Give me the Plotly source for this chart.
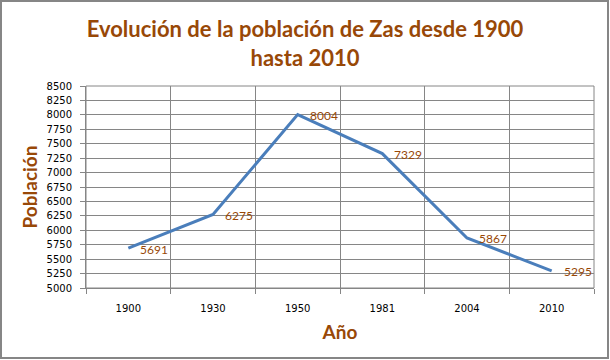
import plotly.graph_objects as go

years = ["1900", "1930", "1950", "1981", "2004", "2010"]
population = [5691, 6275, 8004, 7329, 5867, 5295]
y_ticks = list(range(5000, 8501, 250))

title_color = "#984807"
grid_color = "#868686"
label_font = "Lato, Open Sans, sans-serif"
tick_font = "DejaVu Sans, Verdana, sans-serif"

fig = go.Figure()
fig.add_trace(go.Scatter(
    x=years, y=population, mode="lines",
    line=dict(color="#4A7EBB", width=3),
    showlegend=False, hoverinfo="x+y",
))

annotations = [
    dict(x=i, y=val, xref="x", yref="y", text=str(val), showarrow=False,
         xanchor="left", yanchor="middle", xshift=10, yshift=-1,
         font=dict(family=label_font, size=12, color=title_color))
    for i, val in enumerate(population)
]

L, R, T, B = 86, 16, 86, 72
W, H = 610, 360
pw, ph = W - L - R, H - T - B

fig.update_layout(
    width=W, height=H,
    margin=dict(l=L, r=R, t=T, b=B, autoexpand=False),
    paper_bgcolor="white", plot_bgcolor="white",
    title=dict(
        text="<b>Evolución de la población de Zas desde 1900<br>hasta 2010</b>",
        x=0.5, xanchor="center", y=0.897, yanchor="top",
        font=dict(family=label_font, size=22, color=title_color),
    ),
    xaxis=dict(
        type="category", tickson="boundaries",
        showgrid=True, gridcolor=grid_color, gridwidth=1,
        showline=True, linecolor=grid_color, linewidth=1,
        ticks="outside", ticklen=5, tickcolor=grid_color,
        ticklabelstandoff=11,
        tickfont=dict(family=tick_font, size=10, color="black"),
        title=dict(text="<b>Año</b>", standoff=12,
                   font=dict(family=label_font, size=19, color=title_color)),
        range=[-0.5, 5.5],
    ),
    yaxis=dict(
        range=[5000, 8500], tickvals=y_ticks,
        showgrid=True, gridcolor=grid_color, gridwidth=1,
        showline=True, linecolor=grid_color, linewidth=1,
        ticks="outside", ticklen=5, tickcolor=grid_color,
        ticklabelstandoff=6,
        tickfont=dict(family=tick_font, size=10, color="black"),
        title=dict(text="<b>Población</b>", standoff=3,
                   font=dict(family=label_font, size=19, color=title_color)),
        zeroline=False,
    ),
    annotations=annotations,
    shapes=[dict(
        type="rect", xref="paper", yref="paper",
        x0=(1 - L) / pw, x1=(W - 2 - L) / pw,
        y0=-(H - 2 - T - ph) / ph,
        y1=1 + (T - 1) / ph,
        line=dict(color="#868686", width=2), fillcolor="rgba(0,0,0,0)", layer="below",
    ), dict(
        type="rect", xref="paper", yref="paper", x0=0, x1=1, y0=0, y1=1,
        line=dict(color=grid_color, width=1), fillcolor="rgba(0,0,0,0)",
    )],
)

fig.write_html("out.html", config={"displayModeBar": False},
               post_script="document.body.style.margin='0';")
